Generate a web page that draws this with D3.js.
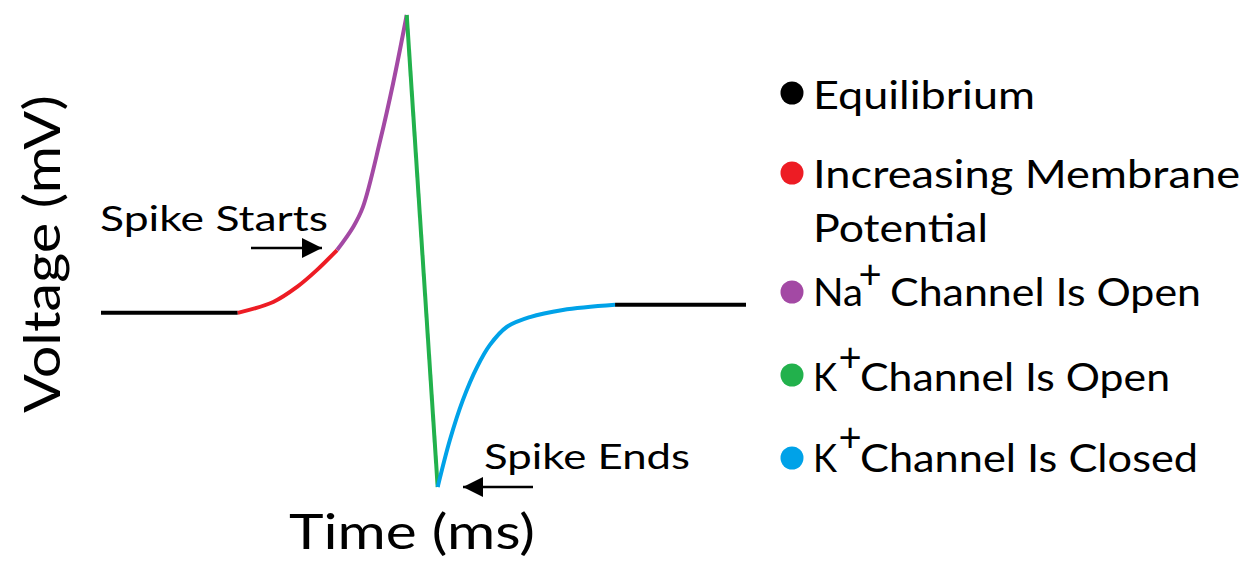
<!DOCTYPE html>
<html><head><meta charset="utf-8">
<script src="https://cdn.jsdelivr.net/npm/d3@7"></script>
<style>body{margin:0;background:#fff}svg{display:block}text{font-family:Lato,"Open Sans",sans-serif;fill:#000}</style>
</head><body>
<svg id="c" width="1250" height="561"></svg>
<script>
// Schematic action potential (arbitrary units: time 0-100, voltage 0-100)
const equilibriumStart = [[0,36.9],[21.2,36.9]];
const increasing = [[21.2,36.9],[26.7,39.2],[30.4,42.4],[33.5,46.0],[36.6,50.2]];
const naOpen = [[36.6,50.2],[39.1,55.1],[40.6,59.3],[43.3,73.5],[45.3,85.6],[47.4,100]];
const kOpen = [[47.4,100],[52.2,0]];
const kClosed = [[52.2,0],[54.1,10.0],[56.1,18.4],[58.3,25.4],[60.3,30.1],[62.9,33.9],[66.5,36.0],[71.6,37.5],[79.7,38.6]];
const equilibriumEnd = [[79.7,38.6],[100,38.6]];
const segmentColors = ["#000000","#ed1c24","#a349a4","#22b14c","#00a2e8","#000000"];
const legendLabels = ["Equilibrium","Increasing Membrane|Potential","Na|+| Channel Is Open","K|+|Channel Is Open","K|+|Channel Is Closed"];
const legendColors = ["#000000","#ed1c24","#a349a4","#22b14c","#00a2e8"];

const svg = d3.select("#c");
const x = d3.scaleLinear().domain([0,100]).range([101,746]);
const y = d3.scaleLinear().domain([0,100]).range([487,15]);

const segs = [equilibriumStart,increasing,naOpen,kOpen,kClosed,equilibriumEnd];
const line = d3.line().x(d=>x(d[0])).y(d=>y(d[1])).curve(d3.curveCatmullRom.alpha(0.5));
svg.selectAll("path.seg").data(segs).join("path").attr("class","seg")
  .attr("d",line).attr("fill","none").attr("stroke",(d,i)=>segmentColors[i])
  .attr("stroke-width",4).attr("stroke-linecap","butt");

// axis titles
svg.append("text").attr("transform","translate(60,254) rotate(-90)").attr("text-anchor","middle")
  .attr("font-size",50).attr("textLength",318).attr("lengthAdjust","spacingAndGlyphs").text("Voltage (mV)");
svg.append("text").attr("x",412).attr("y",549).attr("text-anchor","middle")
  .attr("font-size",48).attr("textLength",246).attr("lengthAdjust","spacingAndGlyphs").text("Time (ms)");

// annotations
svg.append("defs").append("marker").attr("id","ah").attr("viewBox","0 0 10 10").attr("refX",10).attr("refY",5)
  .attr("markerWidth",20).attr("markerHeight",20).attr("markerUnits","userSpaceOnUse").attr("orient","auto")
  .append("path").attr("d","M0,0L10,5L0,10Z").attr("fill","#000");
svg.append("line").attr("x1",251).attr("y1",248).attr("x2",322).attr("y2",248).attr("stroke","#000").attr("stroke-width",2.5).attr("marker-end","url(#ah)");
svg.append("line").attr("x1",533).attr("y1",487).attr("x2",463).attr("y2",487).attr("stroke","#000").attr("stroke-width",2.5).attr("marker-end","url(#ah)");
svg.append("text").attr("x",100).attr("y",231).attr("font-size",34).attr("textLength",228).attr("lengthAdjust","spacingAndGlyphs").text("Spike Starts");
svg.append("text").attr("x",484).attr("y",469).attr("font-size",34).attr("textLength",206).attr("lengthAdjust","spacingAndGlyphs").text("Spike Ends");

// legend
const dotY = [93,173,292,375,458];
const lg = svg.append("g");
lg.selectAll("circle").data(legendColors).join("circle").attr("cx",792).attr("cy",(d,i)=>dotY[i]).attr("r",11.5).attr("fill",d=>d);
const fs = 38;
lg.append("text").attr("x",813).attr("y",109).attr("font-size",fs).attr("textLength",222).attr("lengthAdjust","spacingAndGlyphs").text(legendLabels[0]);
const l1 = legendLabels[1].split("|");
lg.append("text").attr("x",813).attr("y",188).attr("font-size",fs).attr("textLength",427).attr("lengthAdjust","spacingAndGlyphs").text(l1[0]);
lg.append("text").attr("x",813).attr("y",242).attr("font-size",fs).attr("textLength",175).attr("lengthAdjust","spacingAndGlyphs").text(l1[1]);
function supRow(lbl, yb, x0, w0, xp, yp, x2, w2){
  const p = lbl.split("|");
  lg.append("text").attr("x",x0).attr("y",yb).attr("font-size",fs).attr("textLength",w0).attr("lengthAdjust","spacingAndGlyphs").text(p[0]);
  lg.append("text").attr("x",xp).attr("y",yp+13).attr("text-anchor","middle").attr("font-size",40).attr("font-weight",400).text(p[1]);
  lg.append("text").attr("x",x2).attr("y",yb).attr("font-size",fs).attr("textLength",w2).attr("lengthAdjust","spacingAndGlyphs").text(p[2].trim());
}
supRow(legendLabels[2],306,813,50,870,276,890,311);
supRow(legendLabels[3],391,813,24,850,359,860,310);
supRow(legendLabels[4],472,813,24,850,439,860,338);
</script>
</body></html>
